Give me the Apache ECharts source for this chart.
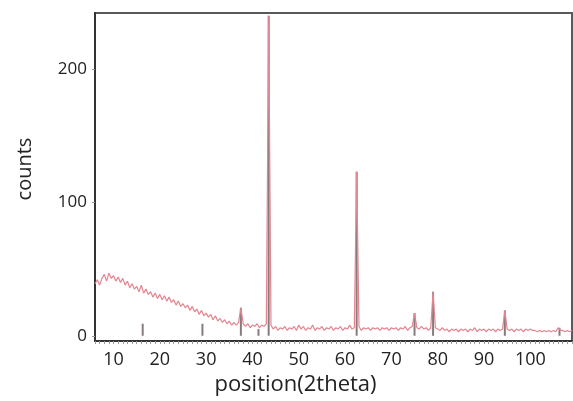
<!DOCTYPE html>
<html>
<head>
<meta charset="utf-8">
<script src="https://cdn.jsdelivr.net/npm/echarts@6/dist/echarts.min.js"></script>
<style>
  html, body { margin: 0; padding: 0; background: #fff; }
  #chart { width: 573px; height: 401px; }
</style>
</head>
<body>
<div id="chart"></div>
<script>
// scan start / step (2theta)
var scanStart = 6;
var scanStep = 0.5;
// counts, one per step
var counts = [
  39, 42, 38, 43, 46, 41, 47, 43, 45, 41, 44, 40, 43, 38, 41, 36, 39, 35, 37, 33,
  38, 32, 35, 31, 33, 29, 32, 28, 31, 27, 30, 26, 29, 25, 27, 23, 26, 22, 24, 21,
  23, 19, 22, 18, 20, 16, 19, 15, 17, 14, 16, 12, 15, 11, 13, 10, 12, 9, 11, 8,
  10, 8, 10, 21, 9, 7, 9, 6, 8, 7, 9, 6, 8, 7, 9, 240, 8, 5, 7, 4,
  6, 5, 7, 4, 6, 5, 7, 4, 8, 5, 7, 4, 6, 5, 8, 4, 6, 5, 7, 4,
  6, 5, 7, 4, 6, 5, 7, 4, 6, 5, 8, 5, 6, 123, 7, 4, 6, 5, 6, 4,
  6, 5, 6, 4, 6, 5, 6, 4, 6, 5, 6, 4, 6, 5, 7, 4, 6, 7, 17, 6,
  5, 7, 5, 6, 4, 6, 33, 6, 5, 4, 6, 4, 5, 3, 5, 4, 5, 3, 5, 4,
  5, 3, 5, 4, 6, 3, 5, 4, 5, 3, 5, 4, 5, 3, 5, 4, 5, 19, 5, 4,
  5, 3, 5, 4, 5, 3, 5, 4, 5, 4, 4, 3, 4, 3, 4, 3, 4, 3, 4, 3,
  6, 4, 4, 3, 4, 3, 4
];
// reference pattern sticks: position, height
var stickPos = [16.3, 29.2, 37.5, 41.3, 43.5, 62.5, 75, 79, 94.5, 106.3];
var stickHeight = [9, 9, 21, 5, 240, 123, 17, 33, 19, 6];

var xLabels = [10, 20, 30, 40, 50, 60, 70, 80, 90, 100];
var yLabels = [0, 100, 200];

var scan = counts.map(function (c, i) { return [scanStart + i * scanStep, c]; });
var sticks = stickPos.map(function (p, i) { return [p, stickHeight[i]]; });
var minorTicks = [];
for (var t = 6; t <= 109; t++) { minorTicks.push(t); }

var chart = echarts.init(document.getElementById('chart'));
chart.setOption({
  animation: false,
  backgroundColor: '#fff',
  grid: {
    left: 95, right: 1, top: 13, bottom: 54,
    show: true, borderColor: '#5a5a5a', borderWidth: 2
  },
  xAxis: {
    type: 'value',
    min: 6,
    max: 109,
    name: 'position(2theta)',
    nameLocation: 'middle',
    nameGap: 30,
    nameTextStyle: {
      fontFamily: 'Open Sans', fontSize: 22, color: '#222',
      padding: [0, 76, 0, 0]
    },
    axisLine: { show: true, onZero: false, lineStyle: { color: '#333', width: 2 } },
    axisTick: { show: true, customValues: minorTicks, length: 3, lineStyle: { color: '#999' } },
    axisLabel: {
      customValues: xLabels,
      margin: 10,
      fontFamily: 'Open Sans', fontSize: 18, color: '#222'
    },
    splitLine: { show: false }
  },
  yAxis: {
    type: 'value',
    min: -4,
    max: 242,
    name: 'counts',
    nameLocation: 'middle',
    nameGap: 60,
    nameTextStyle: {
      fontFamily: 'Open Sans', fontSize: 20, color: '#222',
      padding: [0, 0, 0, 16]
    },
    axisLine: { show: true, onZero: false, lineStyle: { color: '#333', width: 2 } },
    axisTick: { show: true, customValues: yLabels, length: 3, lineStyle: { color: '#999' } },
    axisLabel: {
      customValues: yLabels,
      margin: 8,
      fontFamily: 'Open Sans', fontSize: 17, color: '#222'
    },
    splitLine: { show: false }
  },
  series: [
    {
      type: 'line',
      data: scan,
      symbol: 'none',
      lineStyle: { color: '#e48591', width: 1.2 }
    },
    {
      type: 'bar',
      data: sticks,
      barWidth: 2,
      itemStyle: { color: 'rgba(105,90,94,0.8)' }
    }
  ]
});
</script>
</body>
</html>
